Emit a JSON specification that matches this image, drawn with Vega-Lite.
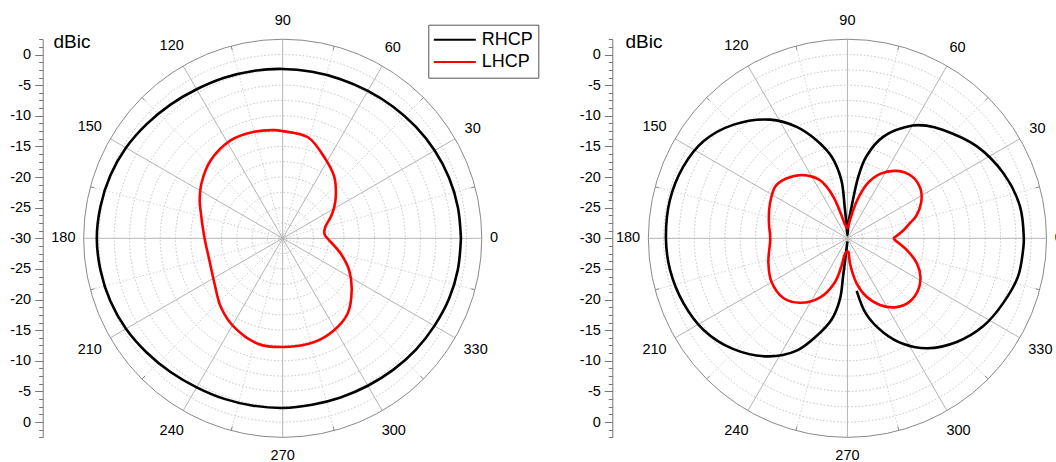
{
  "$schema": "https://vega.github.io/schema/vega-lite/v6.json",
  "width": 1056,
  "height": 462,
  "autosize": {"type": "none"},
  "padding": 0,
  "background": "white",
  "config": {"view": {"stroke": null}, "font": "Liberation Sans"},
  "datasets": {
    "rings": [
      {"p": "L", "r": 2.5}, {"p": "L", "r": 5}, {"p": "L", "r": 7.5}, {"p": "L", "r": 10}, {"p": "L", "r": 12.5}, {"p": "L", "r": 15}, {"p": "L", "r": 17.5}, {"p": "L", "r": 20}, {"p": "L", "r": 22.5}, {"p": "L", "r": 25}, {"p": "L", "r": 27.5}, {"p": "L", "r": 30}, {"p": "L", "r": 32.5},
      {"p": "R", "r": 2.5}, {"p": "R", "r": 5}, {"p": "R", "r": 7.5}, {"p": "R", "r": 10}, {"p": "R", "r": 12.5}, {"p": "R", "r": 15}, {"p": "R", "r": 17.5}, {"p": "R", "r": 20}, {"p": "R", "r": 22.5}, {"p": "R", "r": 25}, {"p": "R", "r": 27.5}, {"p": "R", "r": 30}, {"p": "R", "r": 32.5}
    ],
    "spokes": [
      {"p": "L", "a": 0}, {"p": "L", "a": 15}, {"p": "L", "a": 30}, {"p": "L", "a": 45}, {"p": "L", "a": 60}, {"p": "L", "a": 75}, {"p": "L", "a": 90}, {"p": "L", "a": 105}, {"p": "L", "a": 120}, {"p": "L", "a": 135}, {"p": "L", "a": 150}, {"p": "L", "a": 165}, {"p": "L", "a": 180}, {"p": "L", "a": 195}, {"p": "L", "a": 210}, {"p": "L", "a": 225}, {"p": "L", "a": 240}, {"p": "L", "a": 255}, {"p": "L", "a": 270}, {"p": "L", "a": 285}, {"p": "L", "a": 300}, {"p": "L", "a": 315}, {"p": "L", "a": 330}, {"p": "L", "a": 345},
      {"p": "R", "a": 0}, {"p": "R", "a": 15}, {"p": "R", "a": 30}, {"p": "R", "a": 45}, {"p": "R", "a": 60}, {"p": "R", "a": 75}, {"p": "R", "a": 90}, {"p": "R", "a": 105}, {"p": "R", "a": 120}, {"p": "R", "a": 135}, {"p": "R", "a": 150}, {"p": "R", "a": 165}, {"p": "R", "a": 180}, {"p": "R", "a": 195}, {"p": "R", "a": 210}, {"p": "R", "a": 225}, {"p": "R", "a": 240}, {"p": "R", "a": 255}, {"p": "R", "a": 270}, {"p": "R", "a": 285}, {"p": "R", "a": 300}, {"p": "R", "a": 315}, {"p": "R", "a": 330}, {"p": "R", "a": 345}
    ],
    "curves": [
      {"p": "L", "s": "RHCP", "a": 0, "db": -0.9}, {"p": "L", "s": "RHCP", "a": 10, "db": -0.95}, {"p": "L", "s": "RHCP", "a": 20, "db": -1.1}, {"p": "L", "s": "RHCP", "a": 30, "db": -1.35}, {"p": "L", "s": "RHCP", "a": 40, "db": -1.65}, {"p": "L", "s": "RHCP", "a": 50, "db": -1.95}, {"p": "L", "s": "RHCP", "a": 60, "db": -2.2}, {"p": "L", "s": "RHCP", "a": 70, "db": -2.35}, {"p": "L", "s": "RHCP", "a": 80, "db": -2.4}, {"p": "L", "s": "RHCP", "a": 90, "db": -2.35}, {"p": "L", "s": "RHCP", "a": 100, "db": -2.25}, {"p": "L", "s": "RHCP", "a": 110, "db": -2.1}, {"p": "L", "s": "RHCP", "a": 120, "db": -1.9}, {"p": "L", "s": "RHCP", "a": 130, "db": -1.5}, {"p": "L", "s": "RHCP", "a": 140, "db": -1.0}, {"p": "L", "s": "RHCP", "a": 150, "db": -0.45}, {"p": "L", "s": "RHCP", "a": 160, "db": -0.05}, {"p": "L", "s": "RHCP", "a": 170, "db": 0.2}, {"p": "L", "s": "RHCP", "a": 180, "db": 0.35}, {"p": "L", "s": "RHCP", "a": 190, "db": 0.2}, {"p": "L", "s": "RHCP", "a": 200, "db": -0.05}, {"p": "L", "s": "RHCP", "a": 210, "db": -0.45}, {"p": "L", "s": "RHCP", "a": 220, "db": -1.0}, {"p": "L", "s": "RHCP", "a": 230, "db": -1.5}, {"p": "L", "s": "RHCP", "a": 240, "db": -1.9}, {"p": "L", "s": "RHCP", "a": 250, "db": -2.1}, {"p": "L", "s": "RHCP", "a": 260, "db": -2.25}, {"p": "L", "s": "RHCP", "a": 270, "db": -2.3}, {"p": "L", "s": "RHCP", "a": 280, "db": -2.4}, {"p": "L", "s": "RHCP", "a": 290, "db": -2.35}, {"p": "L", "s": "RHCP", "a": 300, "db": -2.2}, {"p": "L", "s": "RHCP", "a": 310, "db": -1.95}, {"p": "L", "s": "RHCP", "a": 320, "db": -1.65}, {"p": "L", "s": "RHCP", "a": 330, "db": -1.4}, {"p": "L", "s": "RHCP", "a": 340, "db": -1.1}, {"p": "L", "s": "RHCP", "a": 350, "db": -0.95}, {"p": "L", "s": "RHCP", "a": 360, "db": -0.9},
      {"p": "L", "s": "LHCP", "a": 0, "db": -22.7}, {"p": "L", "s": "LHCP", "a": 6, "db": -23.15}, {"p": "L", "s": "LHCP", "a": 15, "db": -22.8}, {"p": "L", "s": "LHCP", "a": 24, "db": -21.4}, {"p": "L", "s": "LHCP", "a": 31, "db": -20.2}, {"p": "L", "s": "LHCP", "a": 38, "db": -19.0}, {"p": "L", "s": "LHCP", "a": 50, "db": -16.9}, {"p": "L", "s": "LHCP", "a": 63, "db": -15.1}, {"p": "L", "s": "LHCP", "a": 76, "db": -13.0}, {"p": "L", "s": "LHCP", "a": 90, "db": -12.5}, {"p": "L", "s": "LHCP", "a": 94, "db": -12.3}, {"p": "L", "s": "LHCP", "a": 105, "db": -12.0}, {"p": "L", "s": "LHCP", "a": 118, "db": -11.9}, {"p": "L", "s": "LHCP", "a": 133, "db": -12.7}, {"p": "L", "s": "LHCP", "a": 146, "db": -14.0}, {"p": "L", "s": "LHCP", "a": 155, "db": -15.05}, {"p": "L", "s": "LHCP", "a": 161, "db": -15.8}, {"p": "L", "s": "LHCP", "a": 179, "db": -17.2}, {"p": "L", "s": "LHCP", "a": 197, "db": -17.5}, {"p": "L", "s": "LHCP", "a": 214, "db": -16.6}, {"p": "L", "s": "LHCP", "a": 228, "db": -14.9}, {"p": "L", "s": "LHCP", "a": 241, "db": -13.5}, {"p": "L", "s": "LHCP", "a": 257, "db": -12.3}, {"p": "L", "s": "LHCP", "a": 271, "db": -12.25}, {"p": "L", "s": "LHCP", "a": 287, "db": -12.3}, {"p": "L", "s": "LHCP", "a": 299, "db": -12.8}, {"p": "L", "s": "LHCP", "a": 311, "db": -13.8}, {"p": "L", "s": "LHCP", "a": 323, "db": -15.9}, {"p": "L", "s": "LHCP", "a": 334, "db": -17.9}, {"p": "L", "s": "LHCP", "a": 345, "db": -20.15}, {"p": "L", "s": "LHCP", "a": 357.5, "db": -22.4}, {"p": "L", "s": "LHCP", "a": 360, "db": -22.7},
      {"p": "R", "s": "RHCP", "a": 280, "db": -21.3}, {"p": "R", "s": "RHCP", "a": 284, "db": -17.2}, {"p": "R", "s": "RHCP", "a": 291, "db": -13.5}, {"p": "R", "s": "RHCP", "a": 298, "db": -10.45}, {"p": "R", "s": "RHCP", "a": 306, "db": -7.8}, {"p": "R", "s": "RHCP", "a": 316.5, "db": -5.4}, {"p": "R", "s": "RHCP", "a": 327, "db": -3.6}, {"p": "R", "s": "RHCP", "a": 337.5, "db": -2.45}, {"p": "R", "s": "RHCP", "a": 347.5, "db": -1.45}, {"p": "R", "s": "RHCP", "a": 356.5, "db": -1.25}, {"p": "R", "s": "RHCP", "a": 0, "db": -1.2}, {"p": "R", "s": "RHCP", "a": 10.5, "db": -1.35}, {"p": "R", "s": "RHCP", "a": 22.5, "db": -2.4}, {"p": "R", "s": "RHCP", "a": 35.5, "db": -4.1}, {"p": "R", "s": "RHCP", "a": 48.5, "db": -6.4}, {"p": "R", "s": "RHCP", "a": 55, "db": -7.55}, {"p": "R", "s": "RHCP", "a": 60, "db": -8.75}, {"p": "R", "s": "RHCP", "a": 70.5, "db": -12.4}, {"p": "R", "s": "RHCP", "a": 77, "db": -16.3}, {"p": "R", "s": "RHCP", "a": 80, "db": -19.8}, {"p": "R", "s": "RHCP", "a": 82.5, "db": -24.8}, {"p": "R", "s": "RHCP", "a": 86, "db": -27.5}, {"p": "R", "s": "RHCP", "a": 90, "db": -29.5}, {"p": "R", "s": "RHCP", "a": 94, "db": -27.5}, {"p": "R", "s": "RHCP", "a": 95, "db": -24.8}, {"p": "R", "s": "RHCP", "a": 96, "db": -20.4}, {"p": "R", "s": "RHCP", "a": 101, "db": -16.4}, {"p": "R", "s": "RHCP", "a": 107.5, "db": -13.2}, {"p": "R", "s": "RHCP", "a": 114.5, "db": -10.0}, {"p": "R", "s": "RHCP", "a": 123, "db": -6.9}, {"p": "R", "s": "RHCP", "a": 135, "db": -3.75}, {"p": "R", "s": "RHCP", "a": 146, "db": -1.65}, {"p": "R", "s": "RHCP", "a": 156.5, "db": -0.75}, {"p": "R", "s": "RHCP", "a": 168, "db": -0.35}, {"p": "R", "s": "RHCP", "a": 180, "db": -0.37}, {"p": "R", "s": "RHCP", "a": 190, "db": -0.58}, {"p": "R", "s": "RHCP", "a": 201.5, "db": -1.2}, {"p": "R", "s": "RHCP", "a": 212.5, "db": -2.15}, {"p": "R", "s": "RHCP", "a": 224, "db": -4.0}, {"p": "R", "s": "RHCP", "a": 236, "db": -6.75}, {"p": "R", "s": "RHCP", "a": 245.5, "db": -9.8}, {"p": "R", "s": "RHCP", "a": 252.5, "db": -13.3}, {"p": "R", "s": "RHCP", "a": 259, "db": -16.5}, {"p": "R", "s": "RHCP", "a": 263, "db": -20.0}, {"p": "R", "s": "RHCP", "a": 263.5, "db": -23.8}, {"p": "R", "s": "RHCP", "a": 264.5, "db": -27.6}, {"p": "R", "s": "RHCP", "a": 270, "db": -29.5},
      {"p": "R", "s": "LHCP", "a": 0, "db": -22.5}, {"p": "R", "s": "LHCP", "a": 8, "db": -20.8}, {"p": "R", "s": "LHCP", "a": 14, "db": -19.4}, {"p": "R", "s": "LHCP", "a": 18, "db": -18.2}, {"p": "R", "s": "LHCP", "a": 26, "db": -16.6}, {"p": "R", "s": "LHCP", "a": 34, "db": -15.6}, {"p": "R", "s": "LHCP", "a": 44, "db": -15.4}, {"p": "R", "s": "LHCP", "a": 54, "db": -16.4}, {"p": "R", "s": "LHCP", "a": 63, "db": -18.2}, {"p": "R", "s": "LHCP", "a": 70, "db": -20.5}, {"p": "R", "s": "LHCP", "a": 76, "db": -23.8}, {"p": "R", "s": "LHCP", "a": 82, "db": -27.0}, {"p": "R", "s": "LHCP", "a": 90, "db": -28.3}, {"p": "R", "s": "LHCP", "a": 97, "db": -28.0}, {"p": "R", "s": "LHCP", "a": 101, "db": -27.5}, {"p": "R", "s": "LHCP", "a": 105, "db": -25.8}, {"p": "R", "s": "LHCP", "a": 108.5, "db": -23.0}, {"p": "R", "s": "LHCP", "a": 112, "db": -20.9}, {"p": "R", "s": "LHCP", "a": 116, "db": -19.3}, {"p": "R", "s": "LHCP", "a": 125, "db": -17.4}, {"p": "R", "s": "LHCP", "a": 136, "db": -16.0}, {"p": "R", "s": "LHCP", "a": 144, "db": -15.5}, {"p": "R", "s": "LHCP", "a": 152, "db": -15.9}, {"p": "R", "s": "LHCP", "a": 160, "db": -16.4}, {"p": "R", "s": "LHCP", "a": 170, "db": -17.0}, {"p": "R", "s": "LHCP", "a": 180, "db": -17.4}, {"p": "R", "s": "LHCP", "a": 197, "db": -16.5}, {"p": "R", "s": "LHCP", "a": 210, "db": -15.7}, {"p": "R", "s": "LHCP", "a": 223, "db": -15.7}, {"p": "R", "s": "LHCP", "a": 233.5, "db": -16.9}, {"p": "R", "s": "LHCP", "a": 245, "db": -19.3}, {"p": "R", "s": "LHCP", "a": 254, "db": -22.5}, {"p": "R", "s": "LHCP", "a": 258, "db": -25.4}, {"p": "R", "s": "LHCP", "a": 261, "db": -27.4}, {"p": "R", "s": "LHCP", "a": 268, "db": -27.8}, {"p": "R", "s": "LHCP", "a": 273.6, "db": -27.8}, {"p": "R", "s": "LHCP", "a": 275.7, "db": -25.9}, {"p": "R", "s": "LHCP", "a": 281.5, "db": -22.5}, {"p": "R", "s": "LHCP", "a": 288, "db": -20.0}, {"p": "R", "s": "LHCP", "a": 296, "db": -17.9}, {"p": "R", "s": "LHCP", "a": 305.5, "db": -16.2}, {"p": "R", "s": "LHCP", "a": 314.5, "db": -15.5}, {"p": "R", "s": "LHCP", "a": 324, "db": -15.7}, {"p": "R", "s": "LHCP", "a": 332, "db": -16.5}, {"p": "R", "s": "LHCP", "a": 340, "db": -17.9}, {"p": "R", "s": "LHCP", "a": 349, "db": -20.15}, {"p": "R", "s": "LHCP", "a": 358, "db": -22.25}, {"p": "R", "s": "LHCP", "a": 360, "db": -22.5}
    ]
  },
  "resolve": {"scale": {"y": "shared", "x": "shared"}, "axis": {"y": "independent"}},
  "layer": [
    {
      "data": {"name": "rings"},
      "transform": [
        {"filter": "datum.r < 32"},
        {"calculate": "datum.p == 'R' ? 92.2 : 0", "as": "cx"},
        {"calculate": "0", "as": "cy"}
      ],
      "mark": {"type": "point", "shape": "circle", "filled": false, "stroke": "#c2c2c2", "strokeWidth": 1, "strokeDash": [1.5, 2], "opacity": 1},
      "encoding": {
        "x": {"field": "cx", "type": "quantitative", "scale": {"domain": [-32.5, 124.7], "range": [83.64, 1046.49], "nice": false, "zero": false}, "axis": null},
        "y": {"field": "cy", "type": "quantitative", "scale": {"domain": [-32.5, 32.5], "range": [437.36, 39.24], "nice": false, "zero": false}, "axis": null},
        "size": {"field": "r", "type": "quantitative", "scale": {"type": "pow", "exponent": 2, "domain": [0, 32.5], "range": [0, 158500], "zero": true, "nice": false}, "legend": null}
      }
    },
    {
      "data": {"name": "spokes"},
      "transform": [
        {"filter": "datum.a % 30 != 0"},
        {"calculate": "datum.p == 'R' ? 92.2 : 0", "as": "ox"},
        {"calculate": "0", "as": "oy"},
        {"calculate": "datum.ox + 32.5 * cos(datum.a * PI / 180)", "as": "ex"},
        {"calculate": "32.5 * sin(datum.a * PI / 180)", "as": "ey"}
      ],
      "mark": {"type": "rule", "stroke": "#d2d2d2", "strokeWidth": 1, "strokeDash": [1.5, 2]},
      "encoding": {
        "x": {"field": "ox", "type": "quantitative", "axis": null},
        "y": {"field": "oy", "type": "quantitative", "axis": {"orient": "left", "offset": -42.7, "values": [-32.5, -31.25, -30, -28.75, -27.5, -26.25, -25, -23.75, -22.5, -21.25, -20, -18.75, -17.5, -16.25, -15, -13.75, -12.5, -11.25, -10, -8.75, -7.5, -6.25, -5, -3.75, -2.5, -1.25, 0, 1.25, 2.5, 3.75, 5, 6.25, 7.5, 8.75, 10, 11.25, 12.5, 13.75, 15, 16.25, 17.5, 18.75, 20, 21.25, 22.5, 23.75, 25, 26.25, 27.5, 28.75, 30, 31.25, 32.5], "labels": false, "domain": false, "grid": false, "tickSize": 4, "tickColor": "#777", "title": null}},
        "x2": {"field": "ex"},
        "y2": {"field": "ey"}
      }
    },
    {
      "data": {"name": "spokes"},
      "transform": [
        {"filter": "datum.a % 30 != 0"},
        {"calculate": "datum.p == 'R' ? 92.2 : 0", "as": "ox"},
        {"calculate": "datum.ox + 31.8 * cos(datum.a * PI / 180)", "as": "sx"},
        {"calculate": "31.8 * sin(datum.a * PI / 180)", "as": "sy"},
        {"calculate": "datum.ox + 32.5 * cos(datum.a * PI / 180)", "as": "ex"},
        {"calculate": "32.5 * sin(datum.a * PI / 180)", "as": "ey"}
      ],
      "mark": {"type": "rule", "stroke": "#8a8a8a", "strokeWidth": 1},
      "encoding": {
        "x": {"field": "sx", "type": "quantitative", "axis": null},
        "y": {"field": "sy", "type": "quantitative", "axis": null},
        "x2": {"field": "ex"},
        "y2": {"field": "ey"}
      }
    },
    {
      "data": {"name": "spokes"},
      "transform": [
        {"filter": "datum.a % 30 == 0"},
        {"calculate": "datum.p == 'R' ? 92.2 : 0", "as": "ox"},
        {"calculate": "0", "as": "oy"},
        {"calculate": "datum.ox + 32.5 * cos(datum.a * PI / 180)", "as": "ex"},
        {"calculate": "32.5 * sin(datum.a * PI / 180)", "as": "ey"}
      ],
      "mark": {"type": "rule", "stroke": "#b4b4b4", "strokeWidth": 1},
      "encoding": {
        "x": {"field": "ox", "type": "quantitative", "axis": null},
        "y": {"field": "oy", "type": "quantitative", "axis": {"orient": "left", "offset": -612.3, "values": [-32.5, -31.25, -30, -28.75, -27.5, -26.25, -25, -23.75, -22.5, -21.25, -20, -18.75, -17.5, -16.25, -15, -13.75, -12.5, -11.25, -10, -8.75, -7.5, -6.25, -5, -3.75, -2.5, -1.25, 0, 1.25, 2.5, 3.75, 5, 6.25, 7.5, 8.75, 10, 11.25, 12.5, 13.75, 15, 16.25, 17.5, 18.75, 20, 21.25, 22.5, 23.75, 25, 26.25, 27.5, 28.75, 30, 31.25, 32.5], "labels": false, "domain": false, "grid": false, "tickSize": 4, "tickColor": "#777", "title": null}},
        "x2": {"field": "ex"},
        "y2": {"field": "ey"}
      }
    },
    {
      "data": {"name": "rings"},
      "transform": [
        {"filter": "datum.r > 32"},
        {"calculate": "datum.p == 'R' ? 92.2 : 0", "as": "cx"},
        {"calculate": "0", "as": "cy"}
      ],
      "mark": {"type": "point", "shape": "circle", "filled": false, "stroke": "#8a8a8a", "strokeWidth": 1, "opacity": 1},
      "encoding": {
        "x": {"field": "cx", "type": "quantitative", "axis": null},
        "y": {"field": "cy", "type": "quantitative", "axis": null},
        "size": {"field": "r", "type": "quantitative", "scale": {"type": "pow", "exponent": 2, "domain": [0, 32.5], "range": [0, 158500], "zero": true, "nice": false}, "legend": null}
      }
    },
    {
      "data": {"name": "curves"},
      "transform": [
        {"calculate": "max(0, datum.db + 30)", "as": "r"},
        {"calculate": "(datum.p == 'R' ? 92.2 : 0) + datum.r * cos(datum.a * PI / 180)", "as": "x"},
        {"calculate": "datum.r * sin(datum.a * PI / 180)", "as": "y"}
      ],
      "mark": {"type": "line", "strokeWidth": 2.6, "strokeJoin": "round", "strokeCap": "butt", "interpolate": "catmull-rom"},
      "encoding": {
        "x": {"field": "x", "type": "quantitative", "axis": null},
        "y": {"field": "y", "type": "quantitative", "axis": {"orient": "left", "offset": -42.7, "values": [-30, -25, -20, -15, -10, -5, 0, 5, 10, 15, 20, 25, 30], "labelExpr": "abs(datum.value) - 30", "tickSize": 8, "tickColor": "#777", "domainColor": "#777", "labelFont": "Liberation Sans", "labelFontSize": 14.5, "labelColor": "#000", "labelPadding": 4, "grid": false, "labelOverlap": false, "labelFlush": false, "labelBound": false, "title": "dBic", "titleAngle": 0, "titleX": 10.3, "titleY": 47.7, "titleAlign": "left", "titleBaseline": "alphabetic", "titleFont": "Liberation Sans", "titleFontSize": 19, "titleFontWeight": "normal", "titleColor": "#000"}},
        "color": {"field": "s", "type": "nominal", "scale": {"domain": ["RHCP", "LHCP"], "range": ["#000000", "#ff0000"]}, "legend": {"orient": "none", "legendX": 428.3, "legendY": 24.7, "title": null, "symbolType": "stroke", "symbolSize": 1764, "symbolStrokeWidth": 2, "clipHeight": 21, "rowPadding": 1.4, "padding": 4.5, "strokeColor": "#555", "fillColor": "#ffffff", "labelFont": "Liberation Sans", "labelFontSize": 18, "labelOffset": 5, "labelColor": "#000"}},
        "detail": {"field": "p"},
        "order": {"value": null}
      }
    },
    {
      "data": {"name": "spokes"},
      "transform": [
        {"filter": "datum.a % 30 == 0"},
        {"calculate": "datum.a * PI / 180", "as": "t"},
        {"calculate": "(207.5 + abs(cos(datum.t)) * 3.95 * length(toString(datum.a)) + abs(sin(datum.t)) * 10) / 6.125", "as": "rl"},
        {"calculate": "(datum.p == 'R' ? 92.2 : 0) + datum.rl * cos(datum.t)", "as": "lx"},
        {"calculate": "datum.rl * sin(datum.t)", "as": "ly"}
      ],
      "mark": {"type": "text", "font": "Liberation Sans", "fontSize": 14.5, "color": "#000", "align": "center", "baseline": "middle"},
      "encoding": {
        "x": {"field": "lx", "type": "quantitative", "axis": null},
        "y": {"field": "ly", "type": "quantitative", "axis": {"orient": "left", "offset": -612.3, "values": [-30, -25, -20, -15, -10, -5, 0, 5, 10, 15, 20, 25, 30], "labelExpr": "abs(datum.value) - 30", "tickSize": 8, "tickColor": "#777", "domainColor": "#777", "labelFont": "Liberation Sans", "labelFontSize": 14.5, "labelColor": "#000", "labelPadding": 4, "grid": false, "labelOverlap": false, "labelFlush": false, "labelBound": false, "title": "dBic", "titleAngle": 0, "titleX": 12.7, "titleY": 47.7, "titleAlign": "left", "titleBaseline": "alphabetic", "titleFont": "Liberation Sans", "titleFontSize": 19, "titleFontWeight": "normal", "titleColor": "#000"}},
        "text": {"field": "a", "type": "quantitative", "format": "d"}
      }
    }
  ]
}
